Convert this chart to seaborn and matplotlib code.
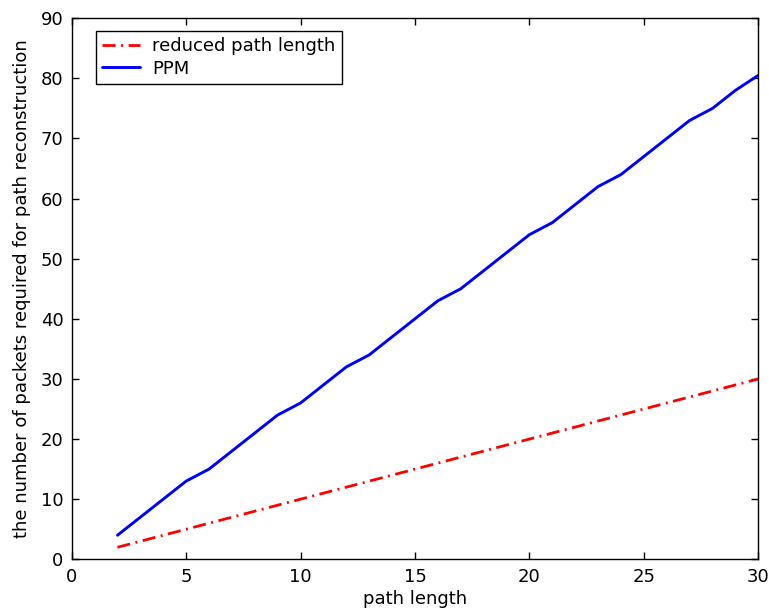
import matplotlib
matplotlib.use("Agg")
import matplotlib.pyplot as plt
import seaborn as sns
import pandas as pd

path_length = list(range(2, 31))
ppm = [4, 7, 10, 13, 15, 18, 21, 24, 26, 29, 32, 34, 37, 40, 43, 45, 48, 51, 54,
       56, 59, 62, 64, 67, 70, 73, 75, 78, 80.5]
reduced = [2, 3, 4, 5, 6, 7, 8, 9, 10, 11, 12, 13, 14, 15, 16, 17, 18, 19, 20,
           21, 22, 23, 24, 25, 26, 27, 28, 29, 30]

x_ticks = [0, 5, 10, 15, 20, 25, 30]
y_ticks = [0, 10, 20, 30, 40, 50, 60, 70, 80, 90]

sns.set_style("ticks")
plt.rcParams['font.family'] = ['DejaVu Sans']
plt.rcParams['text.color'] = 'black'
plt.rcParams['axes.labelcolor'] = 'black'
plt.rcParams['xtick.color'] = 'black'
plt.rcParams['ytick.color'] = 'black'

df = pd.DataFrame({
    "path length": path_length * 2,
    "packets": reduced + ppm,
    "series": ["reduced path length"] * len(reduced) + ["PPM"] * len(ppm),
})

fig = plt.figure(figsize=(7.69, 6.13), dpi=100)
ax = fig.add_axes([0.0932, 0.0876, 0.8928, 0.8826])

sns.lineplot(data=df[df.series == "reduced path length"], x="path length", y="packets",
             color="#ff0000", linewidth=2, linestyle=(0, (4.7, 2, 0.7, 2)), ax=ax,
             label="reduced path length")
sns.lineplot(data=df[df.series == "PPM"], x="path length", y="packets",
             color="#0000ff", linewidth=2.1, ax=ax, label="PPM")

ax.set_xlim(0, 30)
ax.set_ylim(0, 90)
ax.set_xticks(x_ticks)
ax.set_yticks(y_ticks)
ax.tick_params(direction="in", top=True, right=True, labelsize=13, length=5, width=1,
               colors="black", pad=6)
for s in ax.spines.values():
    s.set_visible(True)
    s.set_color("black")
    s.set_linewidth(1)
ax.set_xlabel("path length", fontsize=13, labelpad=3)
ax.set_ylabel("the number of packets required for path reconstruction", fontsize=13, labelpad=7)

leg = ax.legend(loc="upper left", bbox_to_anchor=(96 / 769, 1 - 30.7 / 613),
                bbox_transform=fig.transFigure, borderaxespad=0,
                fontsize=13, frameon=True, fancybox=False, edgecolor="black", framealpha=1,
                borderpad=0.35, handlelength=2.1, handletextpad=0.65, labelspacing=0.25)
leg.get_frame().set_linewidth(1)

fig.savefig("out.png", dpi=100)
